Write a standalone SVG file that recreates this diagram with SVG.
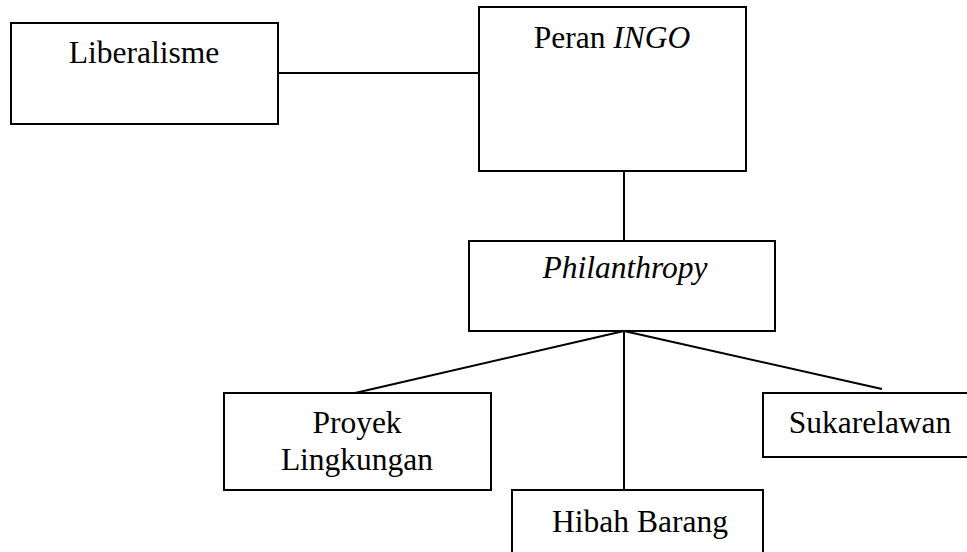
<svg xmlns="http://www.w3.org/2000/svg" width="967" height="552" viewBox="0 0 967 552">
<style>
.box{fill:#fff;stroke:#000;stroke-width:2}
.ln{stroke:#000;stroke-width:2;fill:none}
text{font-family:"Liberation Serif","Times New Roman",serif;font-size:31.5px;fill:#000;text-anchor:middle}
.it{font-style:italic}
</style>
<rect width="967" height="552" fill="#fff"/>
<g id="connectors">
<line class="ln" x1="278" y1="73" x2="479" y2="73"/>
<line class="ln" x1="624" y1="171" x2="624" y2="241"/>
<line class="ln" x1="624" y1="331" x2="355" y2="393"/>
<line class="ln" x1="624" y1="331" x2="624" y2="490"/>
<line class="ln" x1="624" y1="331" x2="882" y2="389"/>
</g>
<g id="liberalisme">
<rect class="box" x="11" y="23" width="267" height="101"/>
<text x="144" y="63">Liberalisme</text>
</g>
<g id="peran-ingo">
<rect class="box" x="479" y="7" width="267" height="164"/>
<text x="612" y="48">Peran <tspan class="it">INGO</tspan></text>
</g>
<g id="philanthropy">
<rect class="box" x="469" y="241" width="306" height="90"/>
<text class="it" x="625" y="278">Philanthropy</text>
</g>
<g id="proyek-lingkungan">
<rect class="box" x="224" y="393" width="267" height="97"/>
<text x="357" y="433">Proyek</text>
<text x="357" y="470">Lingkungan</text>
</g>
<g id="hibah-barang">
<rect class="box" x="512" y="490" width="251" height="80"/>
<text x="640" y="532">Hibah Barang</text>
</g>
<g id="sukarelawan">
<rect class="box" x="763" y="393" width="214" height="64"/>
<text x="870" y="433">Sukarelawan</text>
</g>
</svg>
